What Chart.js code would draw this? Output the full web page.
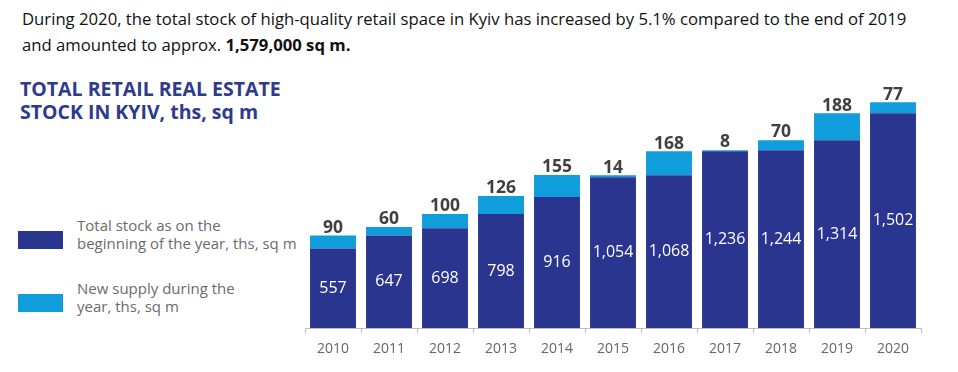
<!DOCTYPE html>
<html>
<head>
<meta charset="utf-8">
<script src="https://cdn.jsdelivr.net/npm/chart.js@4"></script>
<style>
  body { margin: 0; background: #fff; font-family: 'Open Sans', sans-serif; }
  #wrap { position: relative; width: 958px; height: 372px; overflow: hidden; }
  #intro { position: absolute; left: 22px; top: 6px; font-size: 16.7px; line-height: 26px; color: #111; white-space: nowrap; }
  #title { position: absolute; left: 20px; top: 77px; font-size: 19.5px; font-weight: bold; line-height: 23px; color: #2e3a8c; white-space: nowrap; }
  .leg { position: absolute; left: 18px; width: 300px; }
  .leg .box { position: absolute; left: 0; width: 45px; height: 18px; }
  .leg .txt { position: absolute; left: 59px; font-size: 15px; line-height: 18px; color: #6b6b6b; white-space: nowrap; }
  canvas { position: absolute; left: 0; top: 0; }
</style>
</head>
<body>
<div id="wrap">
  <div id="intro">During 2020, the total stock of high-quality retail space in Kyiv has increased by 5.1% compared to the end of 2019<br>and amounted to approx. <b>1,579,000 sq m.</b></div>
  <div id="title">TOTAL RETAIL REAL ESTATE<br>STOCK IN KYIV, ths, sq m</div>
  <div class="leg" style="top:216px">
    <div class="box" style="top:15px;background:#2a3590"></div>
    <div class="txt">Total stock as on the<br>beginning of the year, ths, sq m</div>
  </div>
  <div class="leg" style="top:279px">
    <div class="box" style="top:15px;background:#0f9ddb"></div>
    <div class="txt">New supply during the<br>year, ths, sq m</div>
  </div>
  <canvas id="bar-chart" width="958" height="372"></canvas>
</div>
<script>
// data
const years = ['2010', '2011', '2012', '2013', '2014', '2015', '2016', '2017', '2018', '2019', '2020'];
const stockStart = [557, 647, 698, 798, 916, 1054, 1068, 1236, 1244, 1314, 1502];
const newSupply = [90, 60, 100, 126, 155, 14, 168, 8, 70, 188, 77];

const darkBlue = '#2a3590';
const lightBlue = '#0f9ddb';

// value labels: inside for stock, above for new supply
const valueLabels = {
    id: 'valueLabels',
    afterDatasetsDraw(chart) {
        const c = chart.ctx;
        c.save();
        c.textAlign = 'center';
        chart.getDatasetMeta(0).data.forEach((bar, i) => {
            c.fillStyle = '#ffffff';
            c.font = '16px "Open Sans"';
            c.textBaseline = 'middle';
            c.fillText(stockStart[i].toLocaleString('en-US'), bar.x, (bar.y + bar.base) / 2);
        });
        chart.getDatasetMeta(1).data.forEach((bar, i) => {
            c.fillStyle = '#404040';
            c.font = 'bold 17.5px "Open Sans"';
            c.textBaseline = 'bottom';
            c.fillText(newSupply[i], bar.x, bar.y + 1);
        });
        c.restore();
    }
};

const barChart = new Chart(document.getElementById('bar-chart'), {
    type: 'bar',
    data: {
        labels: years,
        datasets: [{
            label: 'Total stock as on the beginning of the year, ths, sq m',
            data: stockStart,
            backgroundColor: darkBlue,
            categoryPercentage: 1,
            barPercentage: 0.82
        }, {
            label: 'New supply during the year, ths, sq m',
            data: newSupply,
            backgroundColor: lightBlue,
            categoryPercentage: 1,
            barPercentage: 0.82
        }]
    },
    options: {
        responsive: false,
        animation: false,
        layout: { padding: { left: 305, right: 37, top: 85, bottom: 0 } },
        plugins: {
            legend: { display: false },
            tooltip: { enabled: false }
        },
        scales: {
            x: {
                stacked: true,
                afterFit(axis) { axis.height = 44; },
                border: { color: '#bdbdbd' },
                grid: { offset: true, drawOnChartArea: false, tickLength: 5, color: '#bdbdbd' },
                ticks: { color: '#666666', padding: 8, font: { family: 'Open Sans', size: 14 } }
            },
            y: {
                stacked: true,
                display: false,
                min: 0,
                max: 1700
            }
        }
    },
    plugins: [valueLabels]
});
</script>
</body>
</html>
